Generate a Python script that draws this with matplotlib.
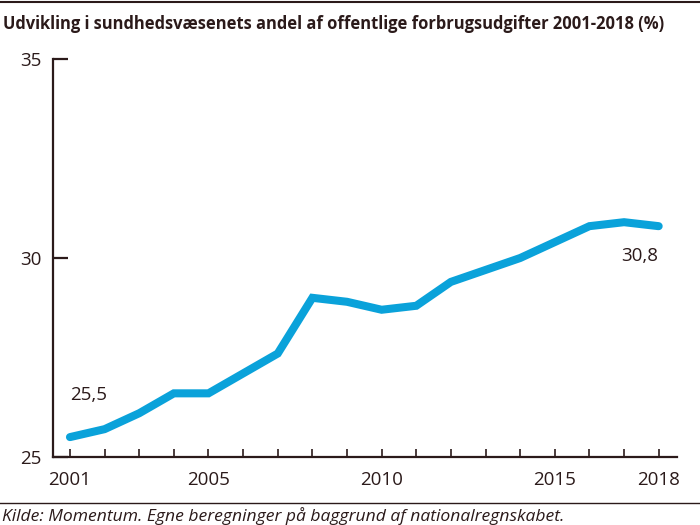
import matplotlib
matplotlib.use("Agg")
import matplotlib.pyplot as plt
from matplotlib.lines import Line2D

# ---------------------------------------Data---------------------------------------
years = list(range(2001, 2019))
andel = [25.5, 25.7, 26.1, 26.6, 26.6, 27.1, 27.6, 29.0, 28.9, 28.7,
         28.8, 29.4, 29.7, 30.0, 30.4, 30.8, 30.9, 30.8]
label_years = [2001, 2005, 2010, 2015, 2018]
y_ticks = [25, 30, 35]

title = "Udvikling i sundhedsvæsenets andel af offentlige forbrugsudgifter 2001-2018 (%)"
source = "Kilde: Momentum. Egne beregninger på baggrund af nationalregnskabet."

ink = "#2b1a1a"
blue = "#0aa2da"
plt.rcParams['font.family'] = ["Open Sans", "DejaVu Sans"]

# ---------------------------------------Figure---------------------------------------
fig = plt.figure(figsize=(7, 5.25), dpi=100)
ax = fig.add_axes([0.0757, 0.1295, 0.891, 0.7581])

ax.plot(years, andel, color=blue, lw=5.8, solid_capstyle="round", solid_joinstyle="miter")

ax.set_xlim(2000.51, 2018.52)
ax.set_ylim(25, 35)
ax.set_yticks(y_ticks)
ax.set_yticklabels([str(v) for v in y_ticks])
ax.set_xticks(years)
ax.set_xticklabels([str(y) if y in label_years else "" for y in years])

for s in ["top", "right"]:
    ax.spines[s].set_visible(False)
for s in ["left", "bottom"]:
    ax.spines[s].set_color(ink)
    ax.spines[s].set_linewidth(1.6)

ax.tick_params(axis="y", direction="in", length=11, width=1.6, color=ink,
               labelsize=13.5, labelcolor=ink, pad=8)
ax.tick_params(axis="x", direction="in", length=6, width=1.2, color=ink,
               labelsize=13.5, labelcolor=ink, pad=10)

# værdietiketter
ax.text(years[0], 26.55, "25,5", color=ink, fontsize=13.5, ha="left", va="center")
ax.text(years[-1], 30.05, "30,8", color=ink, fontsize=13.5, ha="right", va="center")

# titel (skaleres så den passer til samme bredde som i originalen)
t = fig.text(0.004, 0.955, title, fontsize=14, fontweight="bold", color=ink,
             ha="left", va="center")
r = fig.canvas.get_renderer()
w = t.get_window_extent(renderer=r).width
t.set_fontsize(14 * 665 / w)

fig.add_artist(Line2D([0, 1], [0.996, 0.996], color=ink, lw=1.5, transform=fig.transFigure))
fig.add_artist(Line2D([0, 1], [0.042, 0.042], color=ink, lw=1.0, transform=fig.transFigure))
fig.text(0.003, 0.018, source, fontsize=12.6, style="italic", color=ink,
         ha="left", va="center")

fig.savefig("out.png", dpi=100)
